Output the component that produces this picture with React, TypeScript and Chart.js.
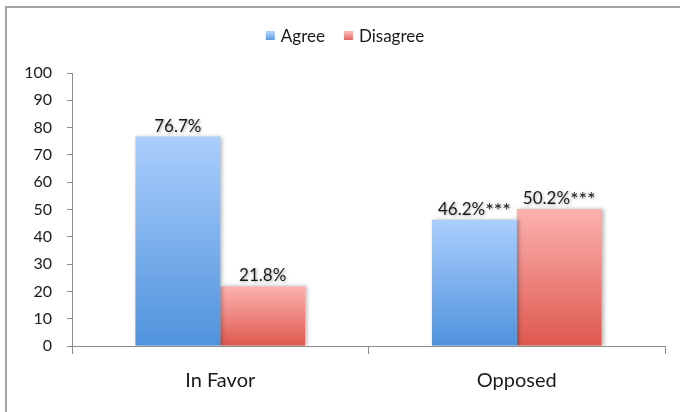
import React, { useEffect, useRef } from 'react';
import { Chart, registerables } from 'chart.js';

Chart.register(...registerables);

const categories = ['In Favor', 'Opposed'];
const seriesNames = ['Agree', 'Disagree'];
const agreeValues = [76.7, 46.2];
const disagreeValues = [21.8, 50.2];
const agreeLabels = ['76.7%', '46.2%***'];
const disagreeLabels = ['21.8%', '50.2%***'];
const yMin = 0;
const yMax = 100;
const yStep = 10;

const FONT = 'Lato, "Open Sans", sans-serif';
const agreeStops = ['#abcffd', '#4f92dc'];
const disagreeStops = ['#fcb2af', '#de584e'];

function gradientFill(stops: string[]) {
  return (ctx: any) => {
    const chart = ctx.chart;
    const y = chart.scales && chart.scales.y;
    if (!y || ctx.type !== 'data' || !ctx.parsed) return stops[1];
    const top = y.getPixelForValue(ctx.parsed.y);
    const bottom = y.getPixelForValue(0);
    if (!isFinite(top) || !isFinite(bottom) || top === bottom) return stops[1];
    const g = chart.ctx.createLinearGradient(0, top, 0, bottom);
    g.addColorStop(0, stops[0]);
    g.addColorStop(1, stops[1]);
    return g;
  };
}

const barShadow = {
  id: 'barShadow',
  beforeDatasetDraw(chart: any) {
    const c = chart.ctx;
    c.save();
    c.shadowColor = 'rgba(0,0,0,0.28)';
    c.shadowBlur = 4;
    c.shadowOffsetX = 2;
    c.shadowOffsetY = 0;
  },
  afterDatasetDraw(chart: any) {
    chart.ctx.restore();
  },
};

const valueLabels = {
  id: 'valueLabels',
  afterDatasetsDraw(chart: any) {
    const c = chart.ctx;
    chart.data.datasets.forEach((ds: any, i: number) => {
      const meta = chart.getDatasetMeta(i);
      meta.data.forEach((bar: any, j: number) => {
        const text: string = ds.valueLabels[j];
        const m = text.match(/^([^*]*)(\**)$/);
        const main = m ? m[1] : text;
        const stars = m ? m[2] : '';
        c.save();
        c.fillStyle = '#1a1a1a';
        c.textAlign = 'left';
        c.textBaseline = 'alphabetic';
        c.shadowColor = 'rgba(0,0,0,0.35)';
        c.shadowBlur = 3;
        c.shadowOffsetX = 1;
        c.shadowOffsetY = 1;
        c.font = `17px ${FONT}`;
        const w1 = c.measureText(main).width;
        c.font = `20px ${FONT}`;
        const w2 = stars ? c.measureText(stars).width : 0;
        let x = bar.x - (w1 + w2) / 2;
        const y = bar.y - 5;
        c.font = `17px ${FONT}`;
        c.fillText(main, x, y);
        if (stars) {
          c.font = `20px ${FONT}`;
          c.fillText(stars, x + w1, y + 2);
        }
        c.restore();
      });
    });
  },
};

const customLegend = {
  id: 'customLegend',
  afterDraw(chart: any) {
    const c = chart.ctx;
    c.save();
    c.font = `17px ${FONT}`;
    const box = 9;
    const gap = 6;
    const spacing = 19;
    const items = chart.data.datasets.map((ds: any) => ({
      label: ds.label,
      stops: ds.legendStops,
      w: c.measureText(ds.label).width,
    }));
    let total = 0;
    items.forEach((it: any, i: number) => {
      total += box + gap + it.w + (i < items.length - 1 ? spacing : 0);
    });
    const cy = 37;
    let x = 345 - total / 2;
    items.forEach((it: any) => {
      const g = c.createLinearGradient(0, cy - box / 2, 0, cy + box / 2);
      g.addColorStop(0, it.stops[0]);
      g.addColorStop(1, it.stops[1]);
      c.fillStyle = g;
      c.fillRect(x, cy - 6, box, box);
      x += box + gap;
      c.fillStyle = '#1a1a1a';
      c.textAlign = 'left';
      c.textBaseline = 'middle';
      c.fillText(it.label, x, cy);
      x += it.w + spacing;
    });
    c.restore();
  },
};

export default function App() {
  const ref = useRef<HTMLCanvasElement | null>(null);

  useEffect(() => {
    if (!ref.current) return;
    const chart = new Chart(ref.current, {
      type: 'bar',
      data: {
        labels: categories,
        datasets: [
          {
            label: seriesNames[0],
            data: agreeValues,
            backgroundColor: gradientFill(agreeStops),
            valueLabels: agreeLabels,
            legendStops: agreeStops,
          } as any,
          {
            label: seriesNames[1],
            data: disagreeValues,
            backgroundColor: gradientFill(disagreeStops),
            valueLabels: disagreeLabels,
            legendStops: disagreeStops,
          } as any,
        ],
      },
      options: {
        responsive: false,
        animation: false,
        devicePixelRatio: 1,
        layout: { padding: { top: 73, right: 15, bottom: 0, left: 0 } },
        datasets: {
          bar: { barPercentage: 1, categoryPercentage: 0.572 },
        },
        plugins: {
          legend: { display: false },
          tooltip: { enabled: false },
        },
        scales: {
          x: {
            grid: {
              display: true,
              drawOnChartArea: false,
              drawTicks: true,
              tickLength: 8,
              offset: true,
              color: '#8c8c8c',
            },
            border: { display: true, color: '#8c8c8c', width: 1 },
            ticks: {
              color: '#1a1a1a',
              font: { family: FONT, size: 20 },
              padding: 15,
            },
            afterFit(scale: any) {
              scale.height = 66;
            },
          },
          y: {
            min: yMin,
            max: yMax,
            grid: {
              display: true,
              drawOnChartArea: false,
              drawTicks: true,
              tickLength: 5,
              color: '#8c8c8c',
            },
            border: { display: true, color: '#8c8c8c', width: 1 },
            ticks: {
              stepSize: yStep,
              color: '#1a1a1a',
              font: { family: FONT, size: 16 },
              padding: 15,
            },
            afterFit(scale: any) {
              scale.width = 72;
            },
          },
        },
      } as any,
      plugins: [barShadow, valueLabels, customLegend],
    });
    return () => chart.destroy();
  }, []);

  return (
    <div
      style={{
        position: 'fixed',
        left: 0,
        top: 0,
        width: 680,
        height: 412,
        background: '#ffffff',
        overflow: 'hidden',
      }}
    >
      <div
        style={{
          position: 'absolute',
          left: 5,
          top: 6,
          width: 800,
          height: 500,
          border: '2px solid #a3a3a3',
          boxSizing: 'border-box',
        }}
      />
      <canvas
        ref={ref}
        width={680}
        height={412}
        style={{ position: 'absolute', left: 0, top: 0, width: 680, height: 412 }}
      />
    </div>
  );
}
